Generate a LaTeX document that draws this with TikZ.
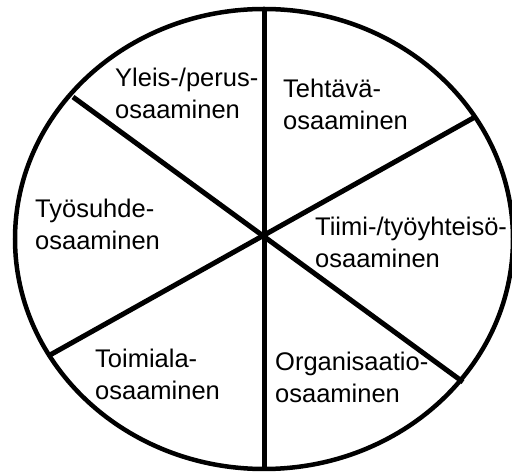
\documentclass[tikz,border=0pt]{standalone}
\usepackage{fontspec}
\setmainfont{Liberation Sans}
\usepackage{tikz}
\usetikzlibrary{positioning}

\begin{document}
\begin{tikzpicture}[x=1pt, y=1pt,
        lbl/.style={anchor=base west, inner sep=0pt, align=left,
            font=\fontsize{25.5}{32}\selectfont},
        rim/.style={line width=4.5pt},
        spoke/.style={line width=5pt}]
        \useasboundingbox (0,0) rectangle (512,474);

        % 外圈
        \draw[rim] (264,235) ellipse [x radius=249, y radius=230];

        % 分割线
        \coordinate (c) at (264,239);
        \coordinate (top) at (264,465);
        \coordinate (bot) at (264,5);
        \coordinate (ul) at (73,377);
        \coordinate (lr) at (463,92);
        \coordinate (ll) at (50,119);
        \coordinate (ur) at (475,357);
        \draw[spoke] (top) -- (bot);
        \draw[spoke] (ul) -- (lr);
        \draw[spoke] (ll) -- (ur);

        % 各扇区文字 (锚点在第二行基线)
        \node[lbl] (yleis) at (115,355) {Yleis-/perus-\\osaaminen};
        \node[lbl] (tehtava) at (283,344) {Tehtävä-\\osaaminen};
        \node[lbl] (tyosuhde) at (35,224) {Työsuhde-\\osaaminen};
        \node[lbl] (tiimi) at (315,206) {Tiimi-/työyhteisö-\\osaaminen};
        \node[lbl] (toimiala) at (95,74) {Toimiala-\\osaaminen};
        \node[lbl] (org) at (275,71) {Organisaatio-\\osaaminen};

    \end{tikzpicture}
\end{document}
